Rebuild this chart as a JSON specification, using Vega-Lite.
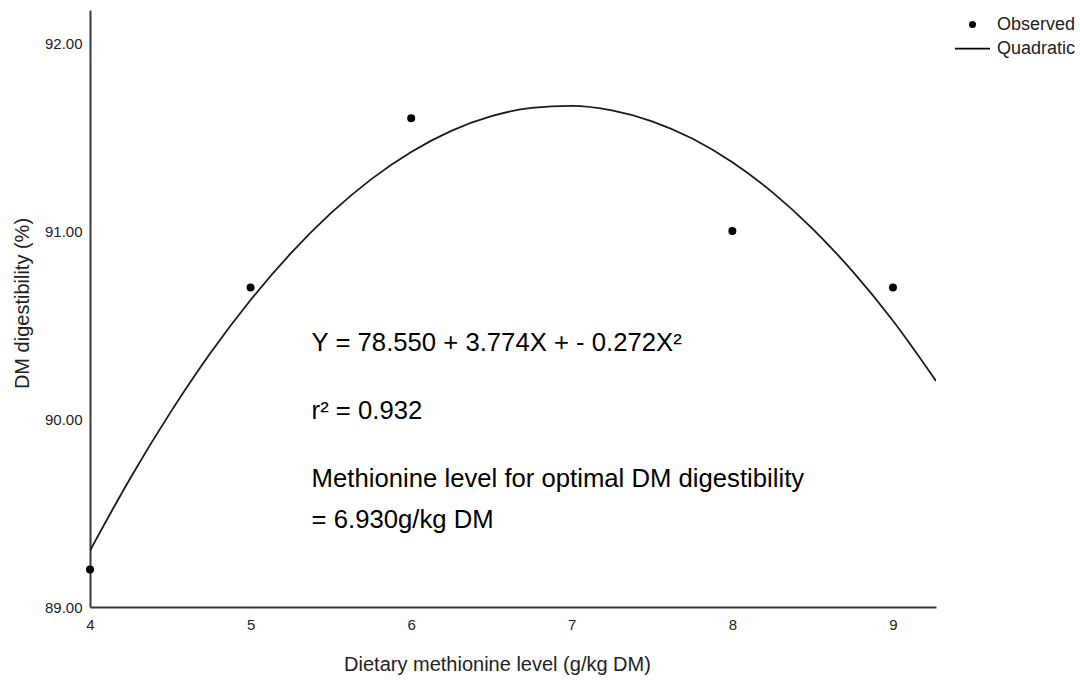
{
  "$schema": "https://vega.github.io/schema/vega-lite/v6.json",
  "width": 846,
  "height": 597,
  "autosize": {"type": "none"},
  "padding": {"left": 90, "top": 10, "right": 144, "bottom": 77},
  "config": {
    "view": {"stroke": null},
    "font": "Liberation Sans",
    "axis": {
      "grid": false,
      "ticks": false,
      "tickSize": 0,
      "domainColor": "#3a3a3a",
      "domainWidth": 2,
      "labelFont": "Liberation Sans",
      "labelFontSize": 15,
      "labelColor": "#222222",
      "titleFont": "Liberation Sans",
      "titleFontSize": 20,
      "titleFontWeight": "normal",
      "titleColor": "#222222",
      "labelFlush": false
    }
  },
  "datasets": {
    "curve": [
      {"x": 4.0, "y": 89.300},
      {"x": 4.25, "y": 89.684},
      {"x": 4.5, "y": 90.034},
      {"x": 4.75, "y": 90.351},
      {"x": 5.0, "y": 90.633},
      {"x": 5.25, "y": 90.881},
      {"x": 5.5, "y": 91.095},
      {"x": 5.75, "y": 91.275},
      {"x": 6.0, "y": 91.421},
      {"x": 6.25, "y": 91.533},
      {"x": 6.5, "y": 91.611},
      {"x": 6.75, "y": 91.655},
      {"x": 7.0, "y": 91.666},
      {"x": 7.25, "y": 91.642},
      {"x": 7.5, "y": 91.584},
      {"x": 7.75, "y": 91.492},
      {"x": 8.0, "y": 91.366},
      {"x": 8.25, "y": 91.206},
      {"x": 8.5, "y": 91.012},
      {"x": 8.75, "y": 90.784},
      {"x": 9.0, "y": 90.523},
      {"x": 9.268, "y": 90.203}
    ],
    "points": [
      {"x": 4, "y": 89.2, "series": "Observed"},
      {"x": 5, "y": 90.7, "series": "Observed"},
      {"x": 6, "y": 91.6, "series": "Observed"},
      {"x": 8, "y": 91.0, "series": "Observed"},
      {"x": 9, "y": 90.7, "series": "Observed"}
    ],
    "notes": [
      {"x": 5.38, "y": 90.363, "label": "Y = 78.550 + 3.774X + - 0.272X²"},
      {"x": 5.38, "y": 90.0, "label": "r² = 0.932"},
      {"x": 5.38, "y": 89.64, "label": "Methionine level for optimal DM digestibility"},
      {"x": 5.38, "y": 89.42, "label": "= 6.930g/kg DM"}
    ]
  },
  "encoding": {
    "x": {
      "field": "x",
      "type": "quantitative",
      "scale": {"domain": [4, 9.268], "nice": false, "zero": false},
      "axis": {
        "title": "Dietary methionine level (g/kg DM)",
        "values": [4, 5, 6, 7, 8, 9],
        "format": "d",
        "labelPadding": 10,
        "titlePadding": 22,
        "titleX": 407,
        "titleAlign": "center"
      }
    },
    "y": {
      "field": "y",
      "type": "quantitative",
      "scale": {"domain": [89, 92.176], "nice": false, "zero": false},
      "axis": {
        "title": "DM digestibility (%)",
        "values": [89, 90, 91, 92],
        "format": ".2f",
        "labelPadding": 8,
        "titlePadding": 12,
        "titleY": 293,
        "titleAlign": "center"
      }
    }
  },
  "layer": [
    {
      "data": {"name": "curve"},
      "mark": {"type": "line", "color": "#1a1a1a", "strokeWidth": 1.8, "interpolate": "monotone", "clip": true}
    },
    {
      "data": {"name": "points"},
      "mark": {"type": "point", "filled": true, "opacity": 1, "size": 64, "color": "#000000"},
      "encoding": {
        "shape": {
          "field": "series",
          "type": "nominal",
          "scale": {"domain": ["Observed", "Quadratic"], "range": ["circle", "M-5,-0.25L5,-0.25L5,0.25L-5,0.25Z"]},
          "legend": {
            "title": null,
            "orient": "none",
            "legendX": 873.5,
            "legendY": 5.5,
            "padding": 0,
            "symbolSize": 49,
            "symbolFillColor": "#000000",
            "symbolStrokeColor": "#000000",
            "symbolStrokeWidth": 0,
            "symbolOpacity": 1,
            "labelFont": "Liberation Sans",
            "labelFontSize": 18,
            "labelColor": "#222222",
            "labelOffset": 15.5,
            "rowPadding": 6,
            "encode": {
              "symbols": {
                "update": {
                  "fill": {"value": "#000000"},
                  "opacity": {"value": 1}
                }
              }
            }
          }
        }
      }
    },
    {
      "data": {"name": "notes"},
      "mark": {"type": "text", "align": "left", "baseline": "alphabetic", "fontSize": 25.7, "font": "Liberation Sans", "color": "#000000"},
      "encoding": {"text": {"field": "label", "type": "nominal"}}
    }
  ]
}
